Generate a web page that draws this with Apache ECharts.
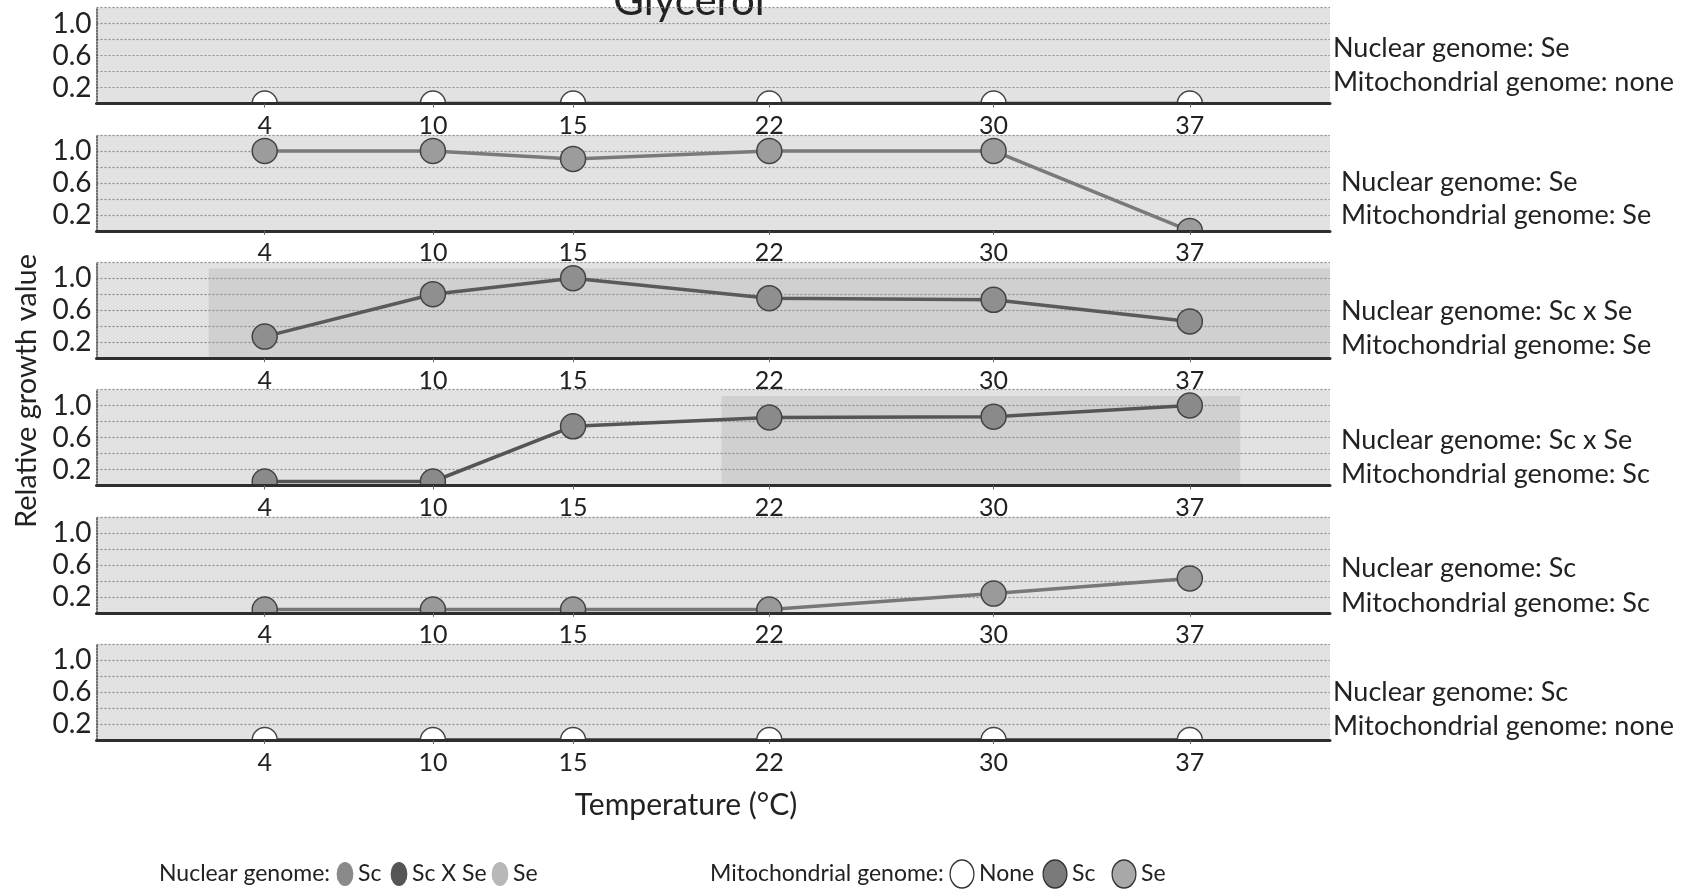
<!DOCTYPE html>
<html>
<head>
<meta charset="utf-8">
<script src="https://cdn.jsdelivr.net/npm/echarts@6/dist/echarts.min.js"></script>
<style>
html,body{margin:0;padding:0;background:#fff;}
#chart{width:1682px;height:890px;}
</style>
</head>
<body>
<div id="chart"></div>
<script>
// ---- data ----
const temperatures = [4, 10, 15, 22, 30, 37];
const yTickLabels = [0.2, 0.6, 1.0];
const growthSeNone   = [0, 0, 0, 0, 0, 0];
const growthSeSe     = [1.0, 1.0, 0.9, 1.0, 1.0, 0];
const growthHybSe    = [0.27, 0.8, 1.0, 0.75, 0.73, 0.46];
const growthHybSc    = [0.05, 0.05, 0.74, 0.85, 0.86, 1.0];
const growthScSc     = [0.04, 0.04, 0.04, 0.04, 0.24, 0.43];
const growthScNone   = [0, 0, 0, 0, 0, 0];
const nuclearLabels = ['Nuclear genome: Se', 'Nuclear genome: Se', 'Nuclear genome: Sc x Se', 'Nuclear genome: Sc x Se', 'Nuclear genome: Sc', 'Nuclear genome: Sc'];
const mitoLabels = ['Mitochondrial genome: none', 'Mitochondrial genome: Se', 'Mitochondrial genome: Se', 'Mitochondrial genome: Sc', 'Mitochondrial genome: Sc', 'Mitochondrial genome: none'];
const shadedRanges = [null, null, [2, 42], [20.3, 38.8], null, null];
const titleText = 'Glycerol';
const xAxisTitle = 'Temperature (°C)';
const yAxisTitle = 'Relative growth value';
const nuclearLegendTitle = 'Nuclear genome:';
const nuclearLegendItems = ['Sc', 'Sc X Se', 'Se'];
const mitoLegendTitle = 'Mitochondrial genome:';
const mitoLegendItems = ['None', 'Sc', 'Se'];

const panels = [growthSeNone, growthSeSe, growthHybSe, growthHybSc, growthScSc, growthScNone];

// ---- layout / styles ----
const FONT = 'Lato';
const markerFill = ['#ffffff', '#9c9c9c', '#8f8f8f', '#8a8a8a', '#9a9a9a', '#ffffff'];
const lineColor = ['#3a3a3a', '#7a7a7a', '#5a5a5a', '#555555', '#777777', '#3a3a3a'];
const PANEL_STEP = 127.3;
const FIRST_TOP = 7.6;
const GRID_H = 96;
const LEFT = 96.5, RIGHT = 352;
const label1Y = [48.3, 182.4, 311.1, 439.8, 568.5, 691.9];
const label2Y = [82.6, 215.6, 345.4, 474.1, 602.9, 726.2];

const grids = [], xAxes = [], yAxes = [], series = [], graphics = [];
panels.forEach((vals, i) => {
  const top = FIRST_TOP + PANEL_STEP * i;
  grids.push({left: LEFT, right: RIGHT, top: top, height: GRID_H, show: true,
    backgroundColor: '#e2e2e2', borderWidth: 0});
  xAxes.push({type: 'value', gridIndex: i, min: -2, max: 42, z: 60,
    axisLine: {show: true, lineStyle: {color: '#2e2e2e', width: 3}},
    axisTick: {show: true, customValues: temperatures, length: 4, lineStyle: {color: '#666', width: 1}},
    axisLabel: {customValues: temperatures, fontFamily: FONT, fontSize: 25, color: '#222', margin: 10},
    splitLine: {show: false}});
  yAxes.push({type: 'value', gridIndex: i, min: 0, max: 1.2, interval: 0.2,
    axisLine: {show: true, onZero: false, lineStyle: {color: '#444', width: 1.5, type: 'dotted'}},
    axisTick: {show: false},
    axisLabel: {customValues: yTickLabels, fontFamily: FONT, fontSize: 28, color: '#222', margin: 5,
      formatter: v => v.toFixed(1)},
    splitLine: {show: true, lineStyle: {color: '#8c8c8c', width: 1.2, type: [2, 2]}}});
  const s = {type: 'line', xAxisIndex: i, yAxisIndex: i,
    data: temperatures.map((t, k) => [t, vals[k]]),
    symbol: 'circle', symbolSize: 25, clip: false,
    lineStyle: {color: lineColor[i], width: 3.5},
    itemStyle: {color: markerFill[i], borderColor: '#444', borderWidth: 1.5},
    z: 3};
  if (shadedRanges[i]) {
    s.markArea = {silent: true, itemStyle: {color: 'rgba(140,140,140,0.2)'},
      data: [[{xAxis: shadedRanges[i][0], yAxis: 0}, {xAxis: shadedRanges[i][1], yAxis: 1.12}]]};
  }
  series.push(s);
  // white mask below the baseline so markers sitting on it look clipped (as in the original)
  const base = top + GRID_H;
  graphics.push({type: 'rect', z: 50, silent: true,
    shape: {x: LEFT - 4, y: base + 1.5, width: 1682 - LEFT - RIGHT + 8, height: 14},
    style: {fill: '#ffffff'}});
  const lx = (i === 0 || i === 5) ? 1333 : 1341;
  graphics.push({type: 'text', x: lx, y: label1Y[i],
    style: {text: nuclearLabels[i], font: '27px ' + FONT, fill: '#222', verticalAlign: 'middle'}});
  graphics.push({type: 'text', x: lx, y: label2Y[i],
    style: {text: mitoLabels[i], font: '27px ' + FONT, fill: '#222', verticalAlign: 'middle'}});
});

// titles
graphics.push({type: 'text', x: 689, y: 22, style: {text: titleText, font: '42px ' + FONT, fill: '#222', align: 'center', verticalAlign: 'bottom'}});
graphics.push({type: 'text', x: 686, y: 805, style: {text: xAxisTitle, font: '30px ' + FONT, fill: '#222', align: 'center', verticalAlign: 'middle'}});
graphics.push({type: 'text', x: 27, y: 391, rotation: Math.PI / 2, style: {text: yAxisTitle, font: '29px ' + FONT, fill: '#222', align: 'center', verticalAlign: 'middle'}});

// legend (drawn as graphics)
const LY = 874;
const legendFont = '23px ' + FONT;
graphics.push({type: 'text', x: 159, y: LY, style: {text: nuclearLegendTitle, font: legendFont, fill: '#222', verticalAlign: 'middle'}});
const nucCx = [345, 399, 500];
const nucFill = ['#8a8a8a', '#555555', '#b8b8b8'];
nuclearLegendItems.forEach((t, k) => {
  graphics.push({type: 'circle', x: nucCx[k], y: LY, scaleX: 0.7, shape: {cx: 0, cy: 0, r: 12}, style: {fill: nucFill[k], stroke: null}});
  graphics.push({type: 'text', x: nucCx[k] + 13, y: LY, style: {text: t, font: legendFont, fill: '#222', verticalAlign: 'middle'}});
});
graphics.push({type: 'text', x: 710, y: LY, style: {text: mitoLegendTitle, font: legendFont, fill: '#222', verticalAlign: 'middle'}});
const mitoCx = [962, 1055, 1124];
const mitoFill = ['#ffffff', '#7a7a7a', '#a8a8a8'];
mitoLegendItems.forEach((t, k) => {
  graphics.push({type: 'circle', x: mitoCx[k], y: LY, scaleX: 0.85, shape: {cx: 0, cy: 0, r: 14}, style: {fill: mitoFill[k], stroke: '#333', lineWidth: 1.5}});
  graphics.push({type: 'text', x: mitoCx[k] + 17, y: LY, style: {text: t, font: legendFont, fill: '#222', verticalAlign: 'middle'}});
});

const chart = echarts.init(document.getElementById('chart'), null, {renderer: 'canvas'});
chart.setOption({
  animation: false,
  backgroundColor: '#ffffff',
  grid: grids, xAxis: xAxes, yAxis: yAxes, series: series,
  graphic: graphics
});
</script>
</body>
</html>
